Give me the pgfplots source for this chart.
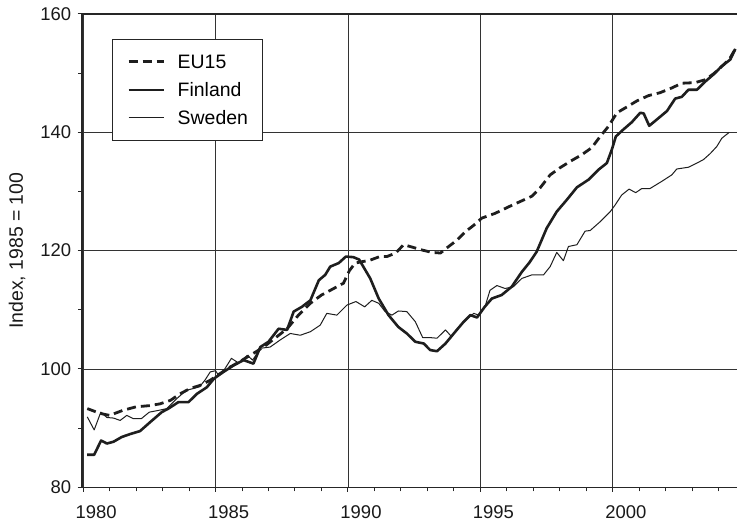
\documentclass[border=0pt]{standalone}
\usepackage{fontspec}
\setmainfont{Liberation Sans}
\usepackage{pgfplots}
\pgfplotsset{compat=1.18}
\definecolor{ink}{HTML}{1E1E1E}
\begin{document}
\begin{tikzpicture}
\begin{axis}[
  scale only axis, width=655bp, height=473bp,
  xmin=1979.962, xmax=2004.7, ymin=80, ymax=160,
  axis x line=box, axis y line=left,
  axis line style={-, line width=1.1bp, black!85},
  xtick={1980,1985,...,2000}, minor xtick={1981,...,2004},
  ytick={80,100,...,160}, minor ytick={90,110,130,150},
  xtick pos=left, ytick pos=left,
  tick align=outside, major tick length=4.5bp, minor tick length=4bp,
  every tick/.style={line width=1bp, black!85},
  grid=major, major grid style={line width=0.9bp, black!80},
  /pgf/number format/assume math mode=true,
  /pgf/number format/1000 sep={},
  tick label style={font=\fontsize{18.5}{22}\selectfont, black!90},
  xticklabel style={xshift=13bp, yshift=-10bp},
  yticklabel style={xshift=-3bp},
  ylabel={Index, 1985 = 100},
  ylabel style={at={(axis description cs:-0.0992,0.5)}, anchor=center, rotate=0, font=\fontsize{19.5}{22}\selectfont, black!90},
  legend cell align=left,
  legend style={at={(axis description cs:0.0458,0.947)}, anchor=north west,
    draw=black!85, line width=1bp, fill=white,
    font=\fontsize{19.5}{22}\selectfont,
    inner xsep=14.7bp, inner ysep=15bp, row sep=13.4bp,
    nodes={inner sep=0pt, text height=14bp, text depth=0.6bp},
    /tikz/every odd column/.append style={column sep=12.6bp}},
  legend image code/.code={\draw[#1] (0bp,0bp) -- (35bp,0bp);},
]
\addplot[ink, line width=2.8bp, dash pattern=on 9bp off 5bp] coordinates {
(1980.16,93.3) (1980.64,92.5) (1981.0,92.15) (1981.5,93.0) (1982.0,93.6)
(1982.5,93.8) (1982.9,94.1) (1983.3,94.7) (1983.66,95.8) (1984.04,96.7)
(1984.4,97.2) (1984.8,98.1) (1985.1,99.0) (1985.5,100.2) (1985.9,101.2)
(1986.3,102.3) (1986.6,103.1) (1986.9,104.0) (1987.3,105.4) (1987.7,106.8)
(1988.13,109.1) (1988.58,111.1) (1989.0,112.5) (1989.46,113.6) (1989.83,114.5)
(1990.05,116.6) (1990.27,117.9) (1990.84,118.4) (1991.2,119.0) (1991.47,119.0)
(1991.8,119.6) (1992.1,121.0) (1992.42,120.6) (1992.8,120.1) (1993.17,119.7)
(1993.49,119.6) (1993.8,120.7) (1994.12,121.8) (1994.43,123.2) (1994.75,124.3)
(1995.05,125.5) (1995.55,126.3) (1996.06,127.4) (1996.5,128.3) (1996.94,129.2)
(1997.25,130.6) (1997.63,132.8) (1998.0,134.0) (1998.39,135.1) (1998.82,136.2)
(1999.2,137.4) (1999.52,139.3) (1999.83,141.0) (2000.15,143.3) (2000.53,144.3)
(2000.9,145.3) (2001.34,146.2) (2001.78,146.7) (2002.22,147.5) (2002.6,148.3)
(2003.1,148.4) (2003.49,148.9) (2003.8,149.9) (2004.1,151.1) (2004.4,152.4)
(2004.62,154.1)
};
\addlegendentry{EU15}
\addplot[ink, line width=2.6bp, line join=round] coordinates {
(1980.15,85.5) (1980.42,85.5) (1980.68,87.9) (1980.9,87.4) (1981.15,87.7)
(1981.46,88.5) (1981.78,89.0) (1982.15,89.5) (1982.53,91.0) (1982.97,92.7)
(1983.22,93.3) (1983.6,94.4) (1983.98,94.4) (1984.3,95.8) (1984.67,96.9)
(1984.95,98.4) (1985.3,99.5) (1985.68,100.6) (1986.06,101.5) (1986.43,100.9)
(1986.69,103.7) (1987.0,104.6) (1987.38,106.8) (1987.7,106.6) (1987.95,109.7)
(1988.26,110.5) (1988.58,111.6) (1988.9,115.0) (1989.14,115.9) (1989.33,117.3)
(1989.65,117.9) (1989.92,119.0) (1990.2,118.9) (1990.42,118.5) (1990.84,115.3)
(1991.16,111.9) (1991.53,109.1) (1991.9,107.1) (1992.22,106.0) (1992.54,104.6)
(1992.86,104.3) (1993.1,103.2) (1993.36,103.0) (1993.68,104.3) (1994.05,106.3)
(1994.37,108.0) (1994.62,109.1) (1994.87,108.7) (1995.16,110.5) (1995.43,111.9)
(1995.8,112.5) (1996.18,113.9) (1996.56,116.4) (1996.85,118.0) (1997.12,119.8)
(1997.5,123.8) (1997.88,126.6) (1998.26,128.6) (1998.64,130.7) (1999.08,132.0)
(1999.46,133.7) (1999.77,134.8) (1999.96,137.1) (2000.11,139.3) (2000.4,140.5)
(2000.71,141.7) (2001.03,143.3) (2001.16,143.2) (2001.37,141.1) (2001.72,142.4)
(2002.04,143.6) (2002.35,145.7) (2002.6,146.0) (2002.85,147.2) (2003.17,147.2)
(2003.49,148.6) (2003.8,149.8) (2004.11,151.2) (2004.43,152.3) (2004.62,154.1)
};
\addlegendentry{Finland}
\addplot[ink, line width=1bp, line join=round] coordinates {
(1980.16,91.9) (1980.42,89.7) (1980.67,92.7) (1980.9,91.8) (1981.15,91.7)
(1981.4,91.3) (1981.65,92.15) (1981.9,91.6) (1982.2,91.6) (1982.5,92.7)
(1982.85,93.0) (1983.16,93.3) (1983.54,95.0) (1983.9,96.4) (1984.17,96.7)
(1984.4,97.0) (1984.6,98.1) (1984.8,99.5) (1985.0,99.7) (1985.12,98.9)
(1985.35,100.0) (1985.6,101.8) (1985.87,101.0) (1986.2,102.3) (1986.4,101.5)
(1986.7,103.5) (1987.06,103.7) (1987.44,104.9) (1987.82,106.0) (1988.2,105.7)
(1988.58,106.3) (1988.95,107.4) (1989.2,109.4) (1989.58,109.1) (1989.96,110.8)
(1990.3,111.4) (1990.63,110.5) (1990.9,111.6) (1991.16,111.1) (1991.4,109.7)
(1991.66,109.1) (1991.9,109.8) (1992.22,109.7) (1992.54,108.0) (1992.82,105.3)
(1993.1,105.3) (1993.36,105.2) (1993.68,106.6) (1993.9,105.5) (1994.18,107.1)
(1994.5,108.5) (1994.75,109.4) (1994.93,109.1) (1995.19,110.8) (1995.36,113.3)
(1995.62,114.1) (1995.93,113.6) (1996.24,113.9) (1996.56,115.3) (1996.94,115.9)
(1997.38,115.9) (1997.63,117.3) (1997.88,119.7) (1998.13,118.3) (1998.32,120.7)
(1998.64,121.0) (1998.95,123.3) (1999.14,123.4) (1999.52,124.9) (1999.9,126.6)
(2000.08,127.7) (2000.33,129.4) (2000.61,130.4) (2000.86,129.8) (2001.09,130.5)
(2001.4,130.5) (2001.84,131.7) (2002.22,132.8) (2002.41,133.8) (2002.85,134.1)
(2003.17,134.8) (2003.42,135.4) (2003.67,136.4) (2003.92,137.6) (2004.11,139.0)
(2004.39,140.0)
};
\addlegendentry{Sweden}
\end{axis}
\path (current axis.south west) ++(-82bp,-34bp) coordinate (bbA);
\path (current axis.north east) ++(0.5bp,14bp) coordinate (bbB);
\path (bbA) rectangle (bbB);
\end{tikzpicture}
\end{document}
